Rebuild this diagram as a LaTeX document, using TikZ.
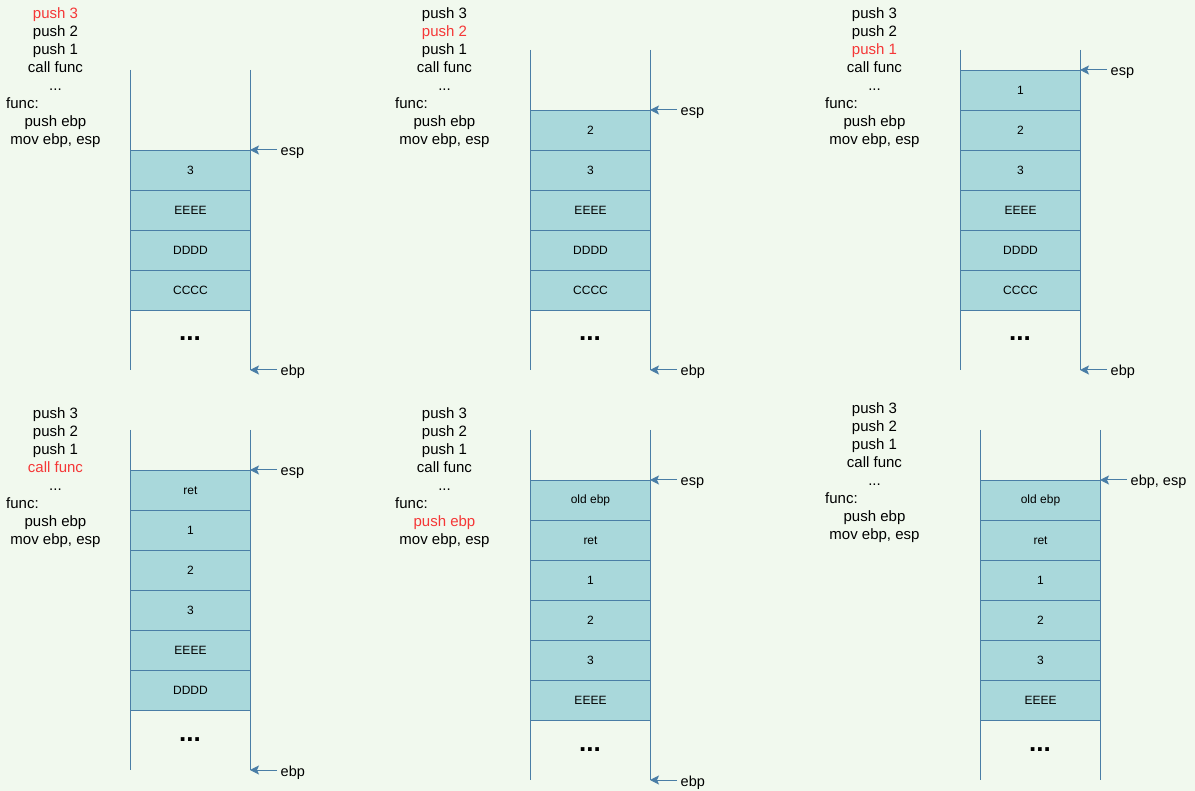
\documentclass[tikz,border=0pt]{standalone}
\usepackage{fontspec}
\setmainfont{Liberation Sans}
\usetikzlibrary{arrows.meta}
\definecolor{bg}{RGB}{241,249,238}
\definecolor{stk}{RGB}{74,126,166}
\definecolor{cellfill}{RGB}{169,216,219}
\definecolor{hl}{RGB}{245,55,55}
\tikzset{
  cellbox/.style={draw=stk, fill=cellfill, line width=1pt, minimum width=120pt,
    minimum height=40pt, inner sep=0pt, anchor=north west, font=\fontsize{12}{14}\selectfont},
  wall/.style={draw=stk, line width=1pt},
  ptr/.style={draw=stk, line width=1pt, -{Stealth[length=9pt,width=9pt,inset=2pt]}},
  ptrlabel/.style={anchor=base west, inner sep=0pt, font=\fontsize{14.5}{17}\selectfont},
  codeline/.style={anchor=base, inner sep=0pt, font=\fontsize{15}{18}\selectfont},
  stackdots/.style={anchor=base, inner sep=0pt, font=\fontsize{26}{26}\selectfont\bfseries},
  l1/.style={}, l2/.style={}, l3/.style={}, l4/.style={},
  l5/.style={}, l6/.style={}, l7/.style={}, l8/.style={}
}
% #1 id, #2 centre x, #3 baseline of first line
\newcommand\codepanel[3]{%
  \node[codeline,l1] (#1-1) at (#2,#3) {push 3};
  \node[codeline,l2] (#1-2) at (#2,#3+18) {push 2};
  \node[codeline,l3] (#1-3) at (#2,#3+36) {push 1};
  \node[codeline,l4] (#1-4) at (#2,#3+54) {call func};
  \node[codeline,l5] (#1-5) at (#2,#3+72) {...};
  \node[codeline,l6,anchor=base west] (#1-6) at (#2-49.5,#3+90) {func:};
  \node[codeline,l7] (#1-7) at (#2,#3+108) {push ebp};
  \node[codeline,l8] (#1-8) at (#2,#3+126) {mov ebp, esp};
}
% #1 id, #2 left x, #3 top, #4 first cell top, #5 bottom, #6 number of cells, #7 labels
\newcommand\stackpanel[7]{%
  \foreach \lab [count=\i] in {#7} {
    \node[cellbox] (#1-c\i) at (#2,#4+40*\i-40) {\lab};
  }
  \coordinate (#1-lt) at (#2,#3);
  \coordinate (#1-lb) at (#2,#5);
  \coordinate (#1-rt) at (#2+120,#3);
  \coordinate (#1-rb) at (#2+120,#5);
  \draw[wall] (#1-lt) -- (#1-lb);
  \draw[wall] (#1-rt) -- (#1-rb);
  \node[stackdots] (#1-dots) at (#2+60,#4+40*#6+31) {...};
}
% #1 name, #2 wall x, #3 y, #4 label
\newcommand\pointer[4]{%
  \coordinate (#1-s) at (#2+27,#3);
  \coordinate (#1-e) at (#2,#3);
  \draw[ptr] (#1-s) -- (#1-e);
  \node[ptrlabel] (#1-l) at (#2+30.5,#3+6) {#4};
}
\begin{document}
\begin{tikzpicture}[x=1pt,y=-1pt]
  \fill[bg] (0,0) rectangle (1195,791);
  \useasboundingbox (0,0) rectangle (1195,791);

  % Panel 1
  \begin{scope}[l1/.style={text=hl}]
    \codepanel{pa}{55.5}{18.3}
  \end{scope}
  \stackpanel{sa}{130}{70}{150}{370}{4}{3,EEEE,DDDD,CCCC}
  \pointer{pa-esp}{250}{150}{esp}
  \pointer{pa-ebp}{250}{370}{ebp}

  % Panel 2
  \begin{scope}[l2/.style={text=hl}]
    \codepanel{pb}{444.5}{18.3}
  \end{scope}
  \stackpanel{sb}{530}{50}{110}{370}{5}{2,3,EEEE,DDDD,CCCC}
  \pointer{pb-esp}{650}{110}{esp}
  \pointer{pb-ebp}{650}{370}{ebp}

  % Panel 3
  \begin{scope}[l3/.style={text=hl}]
    \codepanel{pc}{874.5}{18.3}
  \end{scope}
  \stackpanel{sc}{960}{50}{70}{370}{6}{1,2,3,EEEE,DDDD,CCCC}
  \pointer{pc-esp}{1080}{70}{esp}
  \pointer{pc-ebp}{1080}{370}{ebp}

  % Panel 4
  \begin{scope}[l4/.style={text=hl}]
    \codepanel{pd}{55.5}{418.3}
  \end{scope}
  \stackpanel{sd}{130}{430}{470}{770}{6}{ret,1,2,3,EEEE,DDDD}
  \pointer{pd-esp}{250}{470}{esp}
  \pointer{pd-ebp}{250}{770}{ebp}

  % Panel 5
  \begin{scope}[l7/.style={text=hl}]
    \codepanel{pe}{444.5}{418.3}
  \end{scope}
  \stackpanel{se}{530}{430}{480}{780}{6}{old ebp,ret,1,2,3,EEEE}
  \pointer{pe-esp}{650}{480}{esp}
  \pointer{pe-ebp}{650}{780}{ebp}

  % Panel 6
  \codepanel{pf}{874.5}{413.3}
  \stackpanel{sf}{980}{430}{480}{780}{6}{old ebp,ret,1,2,3,EEEE}
  \pointer{pf-esp}{1100}{480}{ebp, esp}
\end{tikzpicture}
\end{document}
